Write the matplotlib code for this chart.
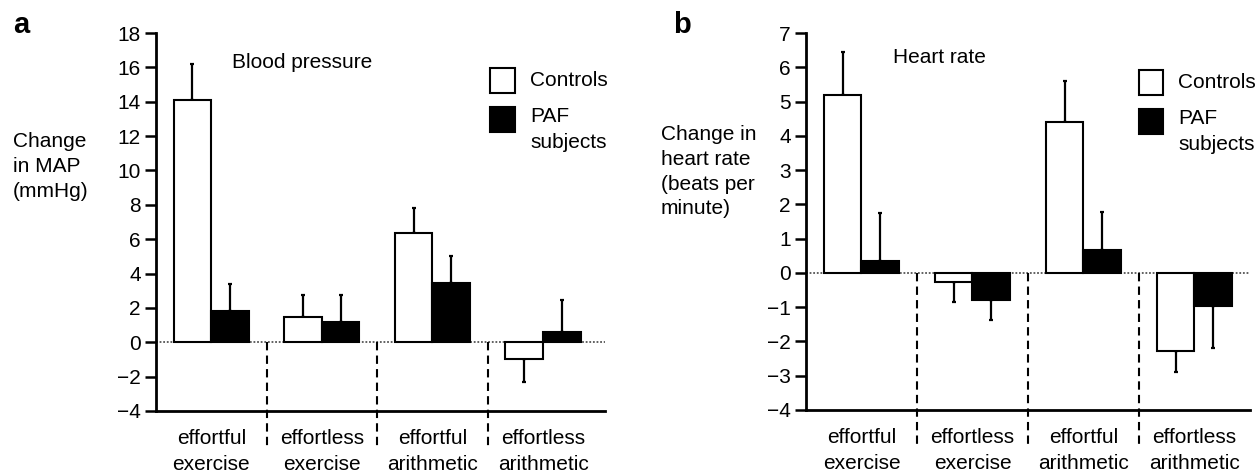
import matplotlib
matplotlib.use('Agg')
import matplotlib.pyplot as plt
from matplotlib.patches import Rectangle
import numpy as np

plt.rcParams['font.family'] = ['Liberation Sans', 'DejaVu Sans']
plt.rcParams['font.size'] = 15

categories = ['effortful\nexercise', 'effortless\nexercise', 'effortful\narithmetic', 'effortless\narithmetic']

# panel a: change in MAP (mmHg), one-sided SEM
bp_controls = [14.1, 1.45, 6.35, -1.0]
bp_controls_err = [2.1, 1.3, 1.45, 1.3]
bp_paf = [1.8, 1.2, 3.45, 0.6]
bp_paf_err = [1.6, 1.55, 1.55, 1.85]
bp_ticks = [-4, -2, 0, 2, 4, 6, 8, 10, 12, 14, 16, 18]

# panel b: change in heart rate (beats per minute)
hr_controls = [5.2, -0.27, 4.4, -2.28]
hr_controls_err = [1.25, 0.58, 1.2, 0.62]
hr_paf = [0.35, -0.8, 0.68, -0.98]
hr_paf_err = [1.4, 0.57, 1.1, 1.2]
hr_ticks = [-4, -3, -2, -1, 0, 1, 2, 3, 4, 5, 6, 7]

BAR_W = 0.34
LW = 1.5


def one_sided(vals, errs):
    # error bar only goes away from zero
    lo = [e if v < 0 else 0 for v, e in zip(vals, errs)]
    hi = [e if v >= 0 else 0 for v, e in zip(vals, errs)]
    return [lo, hi]


def draw_panel(ax, controls, c_err, paf, p_err, ticks, xmax, title, title_pos, leg):
    x = np.arange(len(categories)) + 0.5
    ymin, ymax = ticks[0], ticks[-1]
    ax.axhline(0, color='#555555', lw=1.3, ls=(0, (1, 1)), zorder=1)
    ax.bar(x, controls, width=-BAR_W, align='edge', color='white',
           edgecolor='black', linewidth=LW, zorder=3)
    ax.bar(x, paf, width=BAR_W, align='edge', color='black',
           edgecolor='black', linewidth=LW, zorder=3)
    ax.errorbar(x - BAR_W / 2, controls, yerr=one_sided(controls, c_err), fmt='none',
                ecolor='black', elinewidth=1.6, capsize=1.5, capthick=1.6, zorder=2)
    ax.errorbar(x + BAR_W / 2, paf, yerr=one_sided(paf, p_err), fmt='none',
                ecolor='black', elinewidth=1.6, capsize=1.5, capthick=1.6, zorder=2)

    # dashed separators from zero down into the label area
    y0 = (0 - ymin) / (ymax - ymin)
    for s in range(1, len(categories)):
        ax.plot([s, s], [y0, -0.097], transform=ax.get_xaxis_transform(),
                color='black', lw=1.5, ls=(0, (4, 2.5)), clip_on=False, zorder=2)

    ax.set_xlim(0, xmax)
    ax.set_ylim(ymin, ymax)
    ax.set_yticks(ticks)
    ax.set_xticks(x)
    ax.set_xticklabels(categories, linespacing=1.45)
    ax.tick_params(axis='x', length=0, pad=13)
    ax.tick_params(axis='y', length=8, width=1.8, pad=3, direction='out')
    for side in ['top', 'right']:
        ax.spines[side].set_visible(False)
    for side in ['left', 'bottom']:
        ax.spines[side].set_linewidth(2)

    ax.text(title_pos[0], title_pos[1], title, transform=ax.transAxes, va='baseline', ha='left')

    # legend drawn by hand so the black box sits next to "PAF"
    lx, ly1, ly2, bw, bh, tx = leg
    ax.add_patch(Rectangle((lx, ly1), bw, bh, transform=ax.transAxes, facecolor='white',
                           edgecolor='black', lw=LW, clip_on=False))
    ax.add_patch(Rectangle((lx, ly2), bw, bh, transform=ax.transAxes, facecolor='black',
                           edgecolor='black', lw=LW, clip_on=False))
    ax.text(tx, ly1 + bh / 2, 'Controls', transform=ax.transAxes, va='center', ha='left')
    ax.text(tx, ly2 + bh * 1.0, 'PAF\nsubjects', transform=ax.transAxes, va='top', ha='left',
            linespacing=1.45)


fig = plt.figure(figsize=(12.57, 4.73), dpi=100)
ax1 = fig.add_axes([0.1241, 0.1311, 0.3572, 0.7991])
ax2 = fig.add_axes([0.6412, 0.1332, 0.3532, 0.797])

draw_panel(ax1, bp_controls, bp_controls_err, bp_paf, bp_paf_err, bp_ticks, 4.06,
           'Blood pressure', (0.169, 0.907), (0.744, 0.841, 0.738, 0.0557, 0.066, 0.833))
draw_panel(ax2, hr_controls, hr_controls_err, hr_paf, hr_paf_err, hr_ticks, 4.0,
           'Heart rate', (0.196, 0.920), (0.75, 0.836, 0.732, 0.054, 0.066, 0.838))

fig.text(13 / 1257, 0.647, 'Change\nin MAP\n(mmHg)', va='center', ha='left', linespacing=1.4)
fig.text(661 / 1257, 0.637, 'Change in\nheart rate\n(beats per\nminute)', va='center', ha='left',
         linespacing=1.38)
fig.text(13 / 1257, 0.93, 'a', fontsize=21, fontweight='bold', va='baseline')
fig.text(673 / 1257, 0.93, 'b', fontsize=21, fontweight='bold', va='baseline')

fig.savefig('out.png', dpi=100)
